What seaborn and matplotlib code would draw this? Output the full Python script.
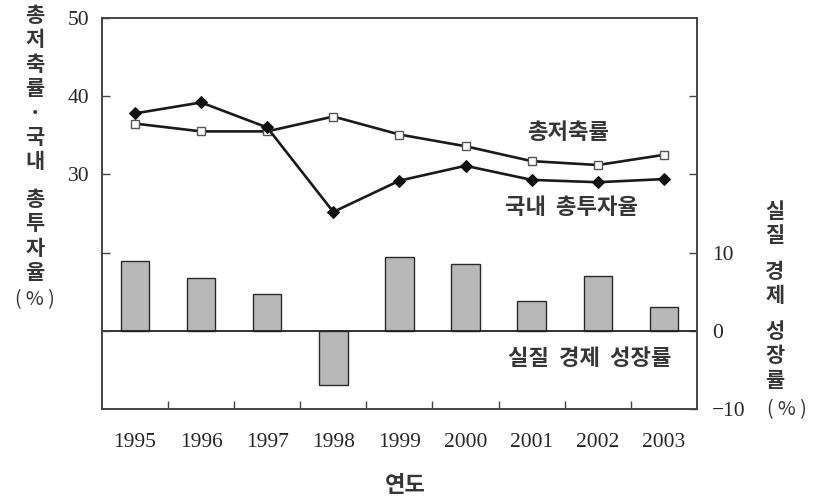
import numpy as np
import pandas as pd
import matplotlib
matplotlib.use("Agg")
import matplotlib.pyplot as plt
import seaborn as sns

# data
years = ["1995", "1996", "1997", "1998", "1999", "2000", "2001", "2002", "2003"]
saving_rate = [36.5, 35.5, 35.5, 37.4, 35.1, 33.6, 31.7, 31.2, 32.5]       # 총저축률
invest_rate = [37.8, 39.2, 36.0, 25.2, 29.2, 31.1, 29.3, 29.0, 29.4]       # 국내 총투자율
growth_rate = [8.9, 6.8, 4.7, -6.9, 9.5, 8.5, 3.8, 7.0, 3.1]               # 실질 경제 성장률

KR = ["Noto Sans CJK KR", "DejaVu Sans"]
NUM = "Liberation Serif"
FRAME = "#444444"
TXT = "#363636"

sns.set_theme(style="white")
plt.rcParams["font.family"] = KR

df = pd.DataFrame({"year": years, "idx": np.arange(len(years)),
                   "saving": saving_rate, "invest": invest_rate,
                   "growth": growth_rate})

fig = plt.figure(figsize=(8.17, 5.0), dpi=100)
ax = fig.add_axes([0.1248, 0.182, 0.7282, 0.782])
ax2 = ax.twinx()

# bars on the right axis
sns.barplot(data=df, x="idx", y="growth", ax=ax2, color="#b8b8b8",
            edgecolor="#2a2a2a", linewidth=1.0, width=0.43, saturation=1,
            native_scale=True)
ax2.axhline(0, color="#222222", lw=1.3, zorder=1)

# lines on the left axis, drawn above bars
ax.set_zorder(ax2.get_zorder() + 1)
ax.patch.set_visible(False)
sns.lineplot(data=df, x="idx", y="saving", ax=ax, color="#1a1a1a", lw=1.9,
             marker="s", markersize=6, markerfacecolor="white",
             markeredgecolor="#555555", markeredgewidth=1.0)
sns.lineplot(data=df, x="idx", y="invest", ax=ax, color="#1a1a1a", lw=1.9,
             marker="D", markersize=6, markerfacecolor="#111111",
             markeredgecolor="#111111")

ax.set_xlim(-0.5, len(years) - 0.5)
ax2.set_xlim(-0.5, len(years) - 0.5)
ax.set_ylim(0, 50)
ax2.set_ylim(-10, 40)

ax.set_xticks(df["idx"])
ax.set_xticklabels(years, family=NUM, fontsize=15.5)
ax.set_xticks(np.arange(0.5, len(years) - 1, 1), minor=True)
ax.tick_params(axis="x", which="major", length=0, pad=17)
ax.tick_params(axis="x", which="minor", direction="in", length=6,
               width=1, color=FRAME, bottom=True)
ax2.tick_params(axis="x", bottom=False, labelbottom=False)

ax.set_yticks([10, 20, 30, 40, 50])
ax.set_yticklabels(["", "", "30", "40", "50"], family=NUM, fontsize=15.5)
ax.tick_params(axis="y", direction="in", length=6, width=1, color=FRAME,
               pad=9, left=True)
ax2.set_yticks([-10, 0, 10, 20, 30])
ax2.set_yticklabels(["\u221210", "0", "10", "", ""], family=NUM, fontsize=15.5)
ax2.tick_params(axis="y", direction="in", length=6, width=1, color=FRAME,
                pad=11, right=True)

for a in (ax, ax2):
    a.set_xlabel("")
    a.set_ylabel("")
    a.grid(False)
    for s in a.spines.values():
        s.set_color(FRAME)
        s.set_linewidth(1.2)

# series labels
lab = dict(fontsize=16, ha="center", va="center", color=TXT, fontweight="bold")
ax.text(6.55, 35.4, "총저축률", **lab)
ax.text(6.61, 25.8, "국내  총투자율", **lab)
ax2.text(6.88, -3.6, "실질  경제  성장률", **lab)

# axis titles written vertically, one character per line
vt = dict(fontsize=15, ha="center", va="top", linespacing=1.2, color=TXT,
          fontweight="bold")
fig.text(35 / 817, 1 - 5 / 500, "\n".join("총저축률·국내"), **vt)
fig.text(35 / 817, 1 - 189 / 500, "\n".join("총투자율"), **vt)
fig.text(35 / 817, 1 - 300 / 500, "( % )", fontsize=14, ha="center", va="center",
         color=TXT)
fig.text(775 / 817, 1 - 201 / 500, "\n".join("실질"), **vt)
fig.text(775 / 817, 1 - 261 / 500, "\n".join("경제"), **vt)
fig.text(775 / 817, 1 - 321 / 500, "\n".join("성장률"), **vt)
fig.text(787 / 817, 1 - 410 / 500, "( % )", fontsize=14, ha="center", va="center",
         color=TXT)
fig.text(405 / 817, 1 - 485 / 500, "연도", fontsize=16, ha="center", va="center",
         color=TXT, fontweight="bold")

fig.savefig("out.png", dpi=100)
